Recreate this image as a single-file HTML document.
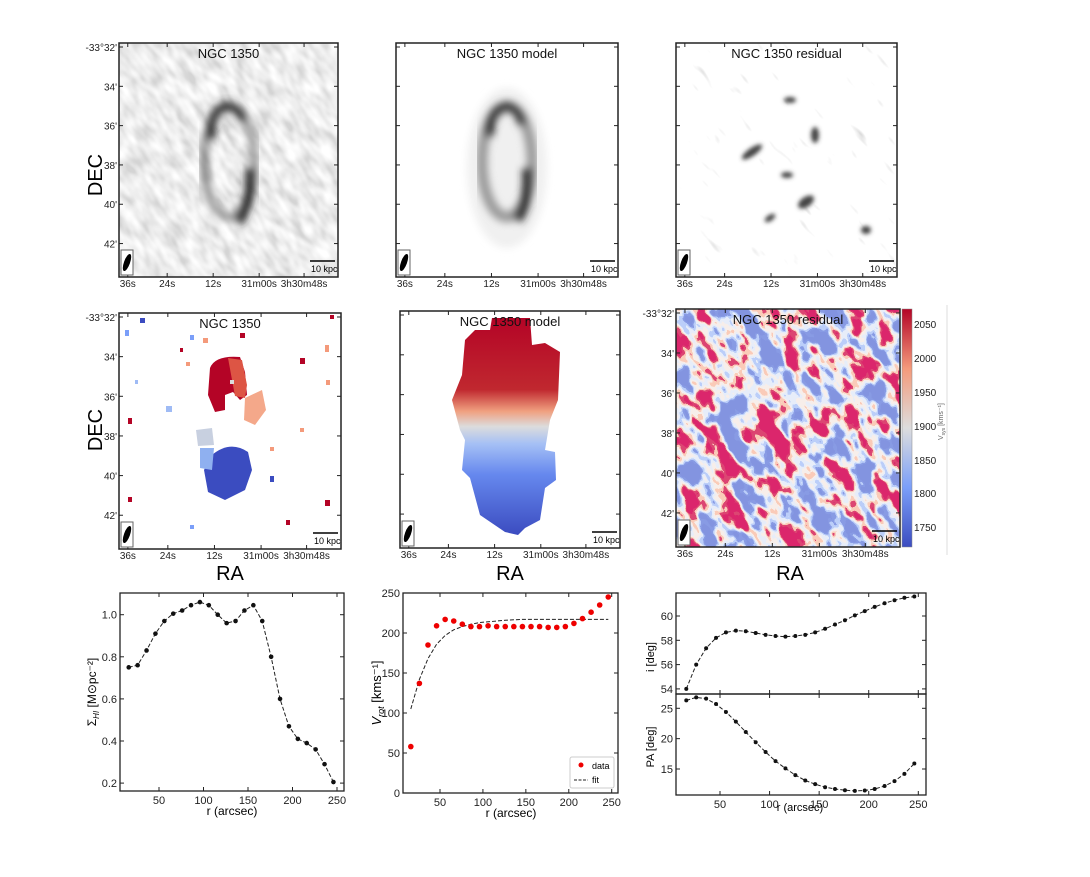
<!DOCTYPE html>
<html><head><meta charset="utf-8"><style>
body{margin:0;background:#fff}
svg text{font-family:"Liberation Sans",sans-serif}
</style></head><body>
<svg id="fig" width="1090" height="872" viewBox="0 0 1090 872" xmlns="http://www.w3.org/2000/svg">
<defs>
<filter id="greyNoise" x="0" y="0" width="100%" height="100%">
<feTurbulence type="fractalNoise" baseFrequency="0.1 0.05" numOctaves="2" seed="4"/>
<feColorMatrix type="matrix" values="1 0 0 0 0 1 0 0 0 0 1 0 0 0 0 0 0 0 0 1"/>
<feComponentTransfer><feFuncR type="linear" slope="1.8" intercept="-0.4"/><feFuncG type="linear" slope="1.8" intercept="-0.4"/><feFuncB type="linear" slope="1.8" intercept="-0.4"/></feComponentTransfer>
<feComponentTransfer><feFuncR type="table" tableValues="0.66 0.76 0.85 0.93 1"/><feFuncG type="table" tableValues="0.66 0.76 0.85 0.93 1"/><feFuncB type="table" tableValues="0.66 0.76 0.85 0.93 1"/><feFuncA type="table" tableValues="1 1"/></feComponentTransfer>
</filter>
<filter id="resNoise" x="0" y="0" width="100%" height="100%">
<feTurbulence type="fractalNoise" baseFrequency="0.11 0.035" numOctaves="2" seed="9"/>
<feColorMatrix type="matrix" values="1 0 0 0 0 1 0 0 0 0 1 0 0 0 0 0 0 0 0 1"/>
<feComponentTransfer><feFuncR type="table" tableValues="0.45 0.8 1 1 1 1 1 1"/><feFuncG type="table" tableValues="0.45 0.8 1 1 1 1 1 1"/><feFuncB type="table" tableValues="0.45 0.8 1 1 1 1 1 1"/><feFuncA type="table" tableValues="1 1"/></feComponentTransfer>
</filter>
<filter id="velNoise" x="0" y="0" width="100%" height="100%">
<feTurbulence type="fractalNoise" baseFrequency="0.055 0.035" numOctaves="3" seed="3"/>
<feColorMatrix type="matrix" values="1 0 0 0 0 1 0 0 0 0 1 0 0 0 0 0 0 0 0 1"/>
<feComponentTransfer><feFuncR type="linear" slope="2.2" intercept="-0.6"/><feFuncG type="linear" slope="2.2" intercept="-0.6"/><feFuncB type="linear" slope="2.2" intercept="-0.6"/></feComponentTransfer>
<feComponentTransfer>
<feFuncR type="discrete" tableValues="0.23 0.23 0.25 0.5 0.8 0.93 0.96 0.72 0.71 0.71"/>
<feFuncG type="discrete" tableValues="0.3 0.3 0.33 0.62 0.85 0.86 0.6 0.06 0.02 0.02"/>
<feFuncB type="discrete" tableValues="0.75 0.75 0.78 0.95 0.95 0.82 0.48 0.17 0.15 0.15"/>
<feFuncA type="table" tableValues="1 1"/></feComponentTransfer>
</filter>
<filter id="blur3"><feGaussianBlur stdDeviation="4"/></filter>
<filter id="blur2"><feGaussianBlur stdDeviation="2"/></filter>
<linearGradient id="cw" x1="0" y1="1" x2="0" y2="0">
<stop offset="0" stop-color="#3b4cc0"/><stop offset="0.25" stop-color="#7b9ff9"/><stop offset="0.5" stop-color="#dddddd"/><stop offset="0.75" stop-color="#f49a7b"/><stop offset="1" stop-color="#b40426"/></linearGradient>
<linearGradient id="modelGrad" x1="0" y1="0" x2="0" y2="1">
<stop offset="0" stop-color="#b40426"/><stop offset="0.33" stop-color="#c0282f"/><stop offset="0.43" stop-color="#f0a080"/><stop offset="0.5" stop-color="#dcdcdc"/><stop offset="0.58" stop-color="#a5c0f5"/><stop offset="0.72" stop-color="#6688ee"/><stop offset="1" stop-color="#3b4cc0"/></linearGradient>
<clipPath id="c1"><rect x="119" y="43" width="219" height="234"/></clipPath>
<clipPath id="c2"><rect x="396" y="43" width="222" height="234"/></clipPath>
<clipPath id="c3"><rect x="676" y="43" width="221" height="234"/></clipPath>
<clipPath id="c6"><rect x="676" y="309" width="224" height="238"/></clipPath>
</defs>

<!-- TOP ROW -->
<g>
<g clip-path="url(#c1)">
<rect x="60" y="-20" width="340" height="360" filter="url(#greyNoise)" transform="rotate(-35 228 160)"/>
<g filter="url(#blur3)">
<ellipse cx="229" cy="162" rx="25" ry="55" fill="none" stroke="#999" stroke-width="8"/>
<path d="M210 140 Q210 108 228 106 Q243 110 243 122" fill="none" stroke="#333" stroke-width="9"/>
<ellipse cx="211" cy="132" rx="4" ry="8" fill="#111"/>
<path d="M250 168 Q253 200 238 222" fill="none" stroke="#222" stroke-width="10"/>
<path d="M205 150 L206 182" stroke="#666" stroke-width="5"/>
</g></g>
<rect x="119" y="43" width="219" height="234" fill="none" stroke="#222" stroke-width="1.5"/>
</g>
<g>
<rect x="396" y="43" width="222" height="234" fill="#fff"/>
<g clip-path="url(#c2)">
<ellipse cx="507" cy="168" rx="40" ry="80" fill="#f0f0f0" filter="url(#blur3)"/>
<g filter="url(#blur3)">
<ellipse cx="507" cy="162" rx="25" ry="55" fill="none" stroke="#999" stroke-width="11"/>
<path d="M489 135 Q490 108 508 106 Q520 110 522 125" fill="none" stroke="#333" stroke-width="9"/>
<ellipse cx="490" cy="128" rx="4" ry="10" fill="#111"/>
<path d="M527 168 Q530 200 517 220" fill="none" stroke="#222" stroke-width="10"/>
</g></g>
<rect x="396" y="43" width="222" height="234" fill="none" stroke="#222" stroke-width="1.5"/>
</g>
<g>
<g clip-path="url(#c3)">
<rect x="620" y="-20" width="340" height="360" filter="url(#resNoise)" transform="rotate(-40 786 160)"/>
<g filter="url(#blur2)" fill="#444">
<ellipse cx="752" cy="152" rx="12" ry="4" transform="rotate(-35 752 152)"/>
<ellipse cx="806" cy="202" rx="9" ry="5" transform="rotate(-35 806 202)"/>
<ellipse cx="866" cy="230" rx="5" ry="4"/>
<ellipse cx="770" cy="218" rx="6" ry="3" transform="rotate(-35 770 218)"/>
<ellipse cx="787" cy="175" rx="6" ry="3"/>
<ellipse cx="815" cy="135" rx="4" ry="8"/>
<ellipse cx="790" cy="100" rx="6" ry="3"/>
</g></g>
<rect x="676" y="43" width="221" height="234" fill="none" stroke="#222" stroke-width="1.5"/>
</g>

<!-- MIDDLE ROW -->
<g>
<rect x="119" y="313" width="222" height="236" fill="#fff"/>
<path d="M210 368 Q215 355 240 357 L245 372 L247 395 L240 400 L233 392 L225 395 L225 410 L215 412 L208 395 Z" fill="#b40426"/>
<path d="M228 358 L242 360 L247 385 L245 398 L235 396 Z" fill="#dd5544"/>
<path d="M245 398 L262 390 L266 410 L255 425 L244 420 Z" fill="#f4a88a"/>
<path d="M196 430 L212 428 L214 445 L198 446 Z" fill="#c8d0e0"/>
<path d="M212 455 Q230 440 248 452 L252 470 L245 490 L225 500 L208 492 L204 470 Z" fill="#3b4cc0"/>
<path d="M200 448 L214 448 L212 470 L200 468 Z" fill="#8fb0f0"/>
<g>
<rect x="125" y="330" width="4" height="6" fill="#7b9ff9"/><rect x="140" y="318" width="5" height="5" fill="#3b4cc0"/>
<rect x="180" y="348" width="3" height="4" fill="#b40426"/><rect x="203" y="338" width="5" height="5" fill="#f49a7b"/>
<rect x="186" y="362" width="4" height="4" fill="#f49a7b"/><rect x="128" y="418" width="4" height="6" fill="#b40426"/>
<rect x="166" y="406" width="6" height="6" fill="#9fbbf5"/><rect x="300" y="358" width="5" height="6" fill="#b40426"/>
<rect x="325" y="345" width="4" height="7" fill="#f49a7b"/><rect x="326" y="380" width="4" height="5" fill="#f49a7b"/>
<rect x="330" y="315" width="4" height="4" fill="#b40426"/><rect x="325" y="500" width="5" height="6" fill="#b40426"/>
<rect x="270" y="476" width="4" height="6" fill="#3b4cc0"/><rect x="128" y="497" width="4" height="5" fill="#b40426"/>
<rect x="190" y="335" width="4" height="5" fill="#7b9ff9"/><rect x="270" y="447" width="4" height="4" fill="#f49a7b"/>
<rect x="240" y="333" width="5" height="5" fill="#b40426"/><rect x="190" y="525" width="4" height="4" fill="#7b9ff9"/>
<rect x="300" y="428" width="4" height="4" fill="#f49a7b"/><rect x="286" y="520" width="4" height="5" fill="#b40426"/>
<rect x="135" y="380" width="3" height="4" fill="#9fbbf5"/><rect x="230" y="380" width="4" height="4" fill="#dcdcdc"/>
</g>
<rect x="119" y="313" width="222" height="236" fill="none" stroke="#222" stroke-width="1.5"/>
</g>
<g>
<rect x="400" y="311" width="220" height="237" fill="#fff"/>
<path d="M475 330 L490 330 L492 318 L530 318 L532 345 L545 343 L560 352 L558 400 L550 420 L545 450 L555 452 L556 480 L545 488 L540 520 L525 528 L518 535 L505 532 L480 515 L470 478 L462 470 L465 440 L460 430 L452 400 L462 375 L465 340 Z" fill="url(#modelGrad)"/>
<rect x="400" y="311" width="220" height="237" fill="none" stroke="#222" stroke-width="1.5"/>
</g>
<g>
<g clip-path="url(#c6)">
<rect x="610" y="250" width="360" height="360" filter="url(#velNoise)" transform="rotate(-30 788 428)"/>
</g>
<rect x="676" y="309" width="224" height="238" fill="none" stroke="#222" stroke-width="1.5"/>
</g>
<g>
<rect x="902" y="309" width="10" height="238" fill="url(#cw)" stroke="#888" stroke-width="0.5"/>
<line x1="947" y1="305" x2="947" y2="555" stroke="#ddd" stroke-width="1"/>
<g font-size="10" fill="#222">
<text x="914" y="328">2050</text><text x="914" y="362">2000</text><text x="914" y="396">1950</text><text x="914" y="430">1900</text><text x="914" y="464">1850</text><text x="914" y="497">1800</text><text x="914" y="531">1750</text>
</g>
<text font-size="7" fill="#666" transform="translate(943 440) rotate(-90)">V<tspan font-size="5" dy="2">sys</tspan><tspan dy="-2"> [kms⁻¹]</tspan></text>
</g>
<g id="mapAnnot"></g>

<text x="0" y="0" font-size="20" transform="translate(102 175) rotate(-90)" text-anchor="middle">DEC</text>
<text x="0" y="0" font-size="20" transform="translate(102 430) rotate(-90)" text-anchor="middle">DEC</text>
<text x="230" y="580" font-size="20" text-anchor="middle">RA</text>
<text x="510" y="580" font-size="20" text-anchor="middle">RA</text>
<text x="790" y="580" font-size="20" text-anchor="middle">RA</text>

<g id="charts"></g>
</svg>
<script>
const NS="http://www.w3.org/2000/svg";
// ---- chart data ----
const radii=[16,26,36,46,56,66,76,86,96,106,116,126,136,146,156,166,176,186,196,206,216,226,236,246];
const sigmaHI=[0.75,0.76,0.83,0.91,0.97,1.005,1.02,1.045,1.06,1.045,1.0,0.96,0.97,1.02,1.045,0.97,0.80,0.60,0.47,0.41,0.39,0.36,0.29,0.205];
const vrotData=[58,137,185,209,217,215,211,208,208,209,208,208,208,208,208,208,207,207,208,212,218,226,235,245];
const vrotFit=[105,142,168,186,197,204,208,211,213,214,215,216,216.5,217,217,217,217,217,217,217,217,217,217,217];
const inclination=[54.0,56.0,57.35,58.2,58.65,58.8,58.75,58.6,58.45,58.35,58.3,58.35,58.45,58.65,58.95,59.3,59.65,60.05,60.4,60.75,61.05,61.3,61.5,61.6];
const posAngle=[26.3,26.8,26.6,25.7,24.4,22.8,21.1,19.4,17.8,16.3,15.1,14.0,13.1,12.5,12.0,11.7,11.5,11.4,11.45,11.7,12.2,13.0,14.2,15.9];
const rTicks=[50,100,150,200,250];
const sigmaTicks=[0.2,0.4,0.6,0.8,1.0];
const vTicks=[0,50,100,150,200,250];
const iTicks=[54,56,58,60];
const paTicks=[15,20,25];
const decLabels=["-33°32'","34'","36'","38'","40'","42'"];
const raLabels=["36s","24s","12s","31m00s","3h30m48s"];

const root=document.getElementById('charts');
function el(tag,attrs,parent,txt){const e=document.createElementNS(NS,tag);for(const k in attrs)e.setAttribute(k,attrs[k]);if(txt!==undefined)e.textContent=txt;(parent||root).appendChild(e);return e;}

const ann=document.getElementById('mapAnnot');
const panels=[
 {x:119,y:43,w:219,h:234,title:"NGC 1350",lab:true},
 {x:396,y:43,w:222,h:234,title:"NGC 1350 model",lab:false},
 {x:676,y:43,w:221,h:234,title:"NGC 1350 residual",lab:false},
 {x:119,y:313,w:222,h:236,title:"NGC 1350",lab:true},
 {x:400,y:311,w:220,h:237,title:"NGC 1350 model",lab:false},
 {x:676,y:309,w:224,h:238,title:"NGC 1350 residual",lab:true}];
const raOff=[0.04,0.22,0.43,0.64,0.845];
panels.forEach((p,pi)=>{
 const g=el('g',{},ann);
 
 
 const t=el('text',{x:p.x+p.w/2,y:p.y+15,'font-size':13,'text-anchor':'middle',fill:'#111'},g,p.title);
 
 
 decLabels.forEach((d,i)=>{
  const yy=p.y+4+i*p.h*0.168;
  el('line',{x1:p.x,y1:yy,x2:p.x+4,y2:yy,stroke:'#222'},g);
  el('line',{x1:p.x+p.w,y1:yy,x2:p.x+p.w-4,y2:yy,stroke:'#222'},g);
  if(p.lab){const tl=el('text',{x:p.x-2,y:yy+4,'font-size':10,'text-anchor':'end',fill:'#222'},g,d);
   
   }
 });
 raLabels.forEach((r,i)=>{
  const xx=p.x+raOff[i]*p.w;
  el('line',{x1:xx,y1:p.y+p.h,x2:xx,y2:p.y+p.h-4,stroke:'#222'},g);
  el('line',{x1:xx,y1:p.y,x2:xx,y2:p.y+4,stroke:'#222'},g);
  const tl=el('text',{x:xx,y:p.y+p.h+10,'font-size':10,'text-anchor':'middle',fill:'#222'},g,r);
  
  
 });
 const bx=p.x+2,by=p.y+p.h-27;
 const bb=el('g',{},g);
 
 
 el('rect',{x:bx,y:by,width:12,height:25,fill:'#fff',stroke:'#666'},bb);
 el('ellipse',{cx:bx+6,cy:by+12.5,rx:3,ry:9,fill:'#000',transform:`rotate(20 ${bx+6} ${by+12.5})`},bb);
 const sb=el('g',{},g);
 
 
 el('line',{x1:p.x+p.w-28,y1:p.y+p.h-16,x2:p.x+p.w-3,y2:p.y+p.h-16,stroke:'#000','stroke-width':1.5},sb);
 el('text',{x:p.x+p.w-27,y:p.y+p.h-5,'font-size':9,fill:'#000'},sb,'10 kpc');
});

function frame(x0,y0,x1,y1,name){
 const g=el('g',{});
 
 
 el('rect',{x:x0,y:y0,width:x1-x0,height:y1-y0,fill:'none',stroke:'#222','stroke-width':1.3},g);
 return g;
}
function xTicks(g,X,y0,y1,labels){
 rTicks.forEach(v=>{const x=X(v);
  el('line',{x1:x,y1:y1,x2:x,y2:y1-4,stroke:'#222'},g);
  el('line',{x1:x,y1:y0,x2:x,y2:y0+4,stroke:'#222'},g);
  if(labels){const t=el('text',{x:x,y:y1+13,'font-size':11,'text-anchor':'middle',fill:'#222'},g,v);
   
   }
 });
}
function yTicks(g,Y,ticks,x0,x1,fmt){
 ticks.forEach(v=>{const y=Y(v);
  el('line',{x1:x0,y1:y,x2:x0+4,y2:y,stroke:'#222'},g);
  el('line',{x1:x1,y1:y,x2:x1-4,y2:y,stroke:'#222'},g);
  const t=el('text',{x:x0-3,y:y+4,'font-size':11,'text-anchor':'end',fill:'#222'},g,fmt(v));
  
  
 });
}
function line(g,X,Y,xs,ys,name){
 const d=xs.map((v,i)=>(i?'L':'M')+X(v).toFixed(1)+' '+Y(ys[i]).toFixed(1)).join(' ');
 const p=el('path',{d:d,fill:'none',stroke:'#222','stroke-width':1,'stroke-dasharray':'4 2'},g);
 
 
}
function dots(g,X,Y,xs,ys,col,r,name){
 xs.forEach((v,i)=>{const c=el('circle',{cx:X(v),cy:Y(ys[i]),r:r,fill:col},g);
  
  });
}

// Chart 1
{const X=r=>114.5+0.89*r, Y=v=>614.7-(v-1.0)*210.5;
 const g=frame(120,593,344,791,'surface-density-chart');
 xTicks(g,X,593,791,true); yTicks(g,Y,sigmaTicks,120,344,v=>v.toFixed(1));
 line(g,X,Y,radii,sigmaHI,'surface-density-line'); dots(g,X,Y,radii,sigmaHI,'#111',2.3,'surface-density-point');
 const xl=el('text',{x:232,y:815,'font-size':12,'text-anchor':'middle'},g,'r (arcsec)');
 
 const yl=el('text',{'font-size':12,'text-anchor':'middle',transform:'translate(96 692) rotate(-90)'},g);
 
 yl.innerHTML='Σ<tspan font-size="8" dy="3" font-style="italic">HI</tspan><tspan dy="-3"> [M⊙pc⁻²]</tspan>';
}
// Chart 2
{const X=r=>440+(r-50)*0.8585, Y=v=>793-v*0.8;
 const g=frame(403,593,618,793,'rotation-curve-chart');
 xTicks(g,X,593,793,true); yTicks(g,Y,vTicks,403,618,v=>v);
 line(g,X,Y,radii,vrotFit,'fit-line'); dots(g,X,Y,radii,vrotData,'#ee0000',2.8,'data-point');
 const xl=el('text',{x:511,y:817,'font-size':12,'text-anchor':'middle'},g,'r (arcsec)');
 
 const yl=el('text',{'font-size':13,'text-anchor':'middle',transform:'translate(381 693) rotate(-90)'},g);
 
 yl.innerHTML='<tspan font-style="italic">V</tspan><tspan font-size="9" dy="3" font-style="italic">rot</tspan><tspan dy="-3"> [kms⁻¹]</tspan>';
 const lg=el('g',{},g);
 
 el('rect',{x:570,y:757,width:44,height:31,fill:'#fff',stroke:'#ccc',rx:2},lg);
 el('circle',{cx:581,cy:765,r:2.5,fill:'#ee0000'},lg);
 el('text',{x:592,y:769,'font-size':9},lg,'data');
 el('line',{x1:574,y1:780,x2:588,y2:780,stroke:'#222','stroke-dasharray':'3 1.5'},lg);
 el('text',{x:592,y:783,'font-size':9},lg,'fit');
}
// Chart 3
{const X=r=>720+(r-50)*0.9915;
 const Yi=v=>616-(v-60)*12.15, Yp=v=>708.3-(v-25)*6.07;
 const g1=frame(676,593,926,694,'inclination-chart');
 xTicks(g1,X,593,694,false); yTicks(g1,Yi,iTicks,676,926,v=>v);
 line(g1,X,Yi,radii,inclination,'inclination-line'); dots(g1,X,Yi,radii,inclination,'#111',2,'inclination-point');
 const g2=frame(676,694,926,795,'position-angle-chart');
 xTicks(g2,X,694,795,true); yTicks(g2,Yp,paTicks,676,926,v=>v);
 line(g2,X,Yp,radii,posAngle,'pa-line'); dots(g2,X,Yp,radii,posAngle,'#111',2,'pa-point');
 const xl=el('text',{x:800,y:811,'font-size':11,'text-anchor':'middle'},g2,'r (arcsec)');
 
 const y1=el('text',{'font-size':11,'text-anchor':'middle',transform:'translate(654 657) rotate(-90)'},g1,'i [deg]');
 
 const y2=el('text',{'font-size':11,'text-anchor':'middle',transform:'translate(654 747) rotate(-90)'},g2,'PA [deg]');
 
}
</script>
</body></html>
